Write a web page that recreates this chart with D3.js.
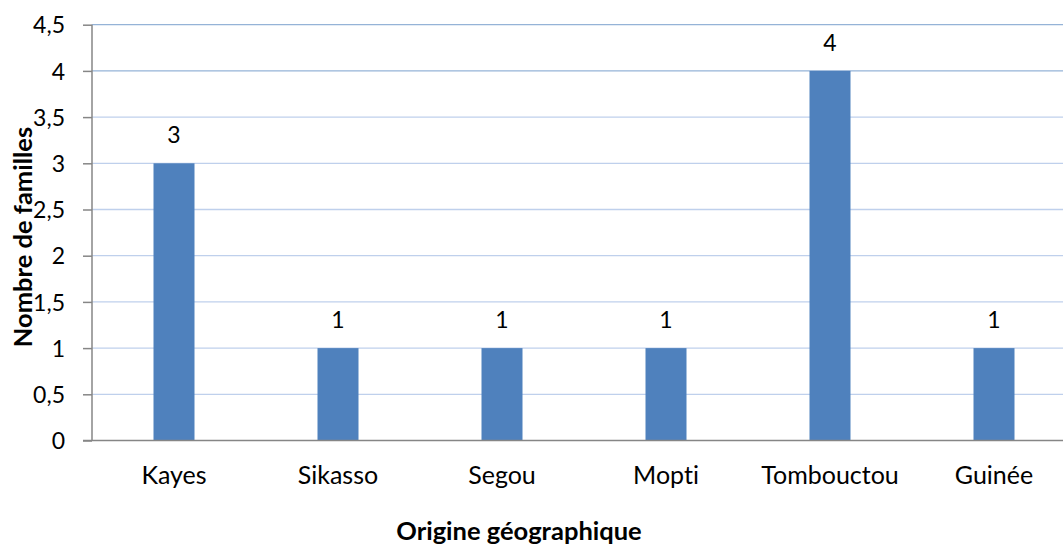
<!DOCTYPE html>
<html><head><meta charset="utf-8">
<script src="https://cdn.jsdelivr.net/npm/d3@7"></script>
<style>body{margin:0;background:#fff;}svg{display:block;font-family:Lato,"Open Sans",sans-serif;font-variant-ligatures:none;}svg text{font-variant-ligatures:none;}</style>
</head><body>
<svg id="c" width="1063" height="547"></svg>
<script>
const categories = ["Kayes","Sikasso","Segou","Mopti","Tombouctou","Guinée"];
const values = [3,1,1,1,4,1];
const yTicks = [0,0.5,1,1.5,2,2.5,3,3.5,4,4.5];
const yTitle = "Nombre de familles";
const xTitle = "Origine géographique";

const svg = d3.select("#c");
const x0 = 92, x1 = 1076, yTop = 24.7, yBot = 440.5;
const x = d3.scaleBand().domain(categories).range([x0, x1]).paddingInner(0.75).paddingOuter(0.375);
const y = d3.scaleLinear().domain([0, 4.5]).range([yBot, yTop]);
const fmt = d => String(d).replace(".", ",");

// gridlines
svg.append("g").selectAll("line").data(yTicks.filter(d => d > 0)).join("line")
  .attr("x1", x0).attr("x2", 1063).attr("y1", d => y(d)).attr("y2", d => y(d))
  .attr("stroke", d => d >= 4 ? "#95B3D7" : "#BFD0EC").attr("stroke-width", 1.3);

// bars
svg.append("g").selectAll("rect").data(values).join("rect")
  .attr("x", (d, i) => x(categories[i])).attr("width", x.bandwidth())
  .attr("y", d => y(d)).attr("height", d => yBot - y(d)).attr("fill", "#4F81BD");

// data labels
svg.append("g").selectAll("text").data(values).join("text")
  .attr("x", (d, i) => x(categories[i]) + x.bandwidth() / 2).attr("y", d => y(d) - 20)
  .attr("text-anchor", "middle").attr("font-size", 23).attr("fill", "#000").text(d => d);

// y axis
const ya = svg.append("g").attr("transform", `translate(${x0},0)`)
  .call(d3.axisLeft(y).tickValues(yTicks).tickFormat(fmt).tickSize(9).tickPadding(18));
ya.select(".domain").attr("stroke", "#868686").attr("stroke-width", 1.5).attr("d", `M0,${yTop}V${yBot}`);
ya.selectAll(".tick line").attr("stroke", "#868686").attr("stroke-width", 1.5);
ya.selectAll(".tick text").attr("font-size", 23).attr("fill", "#000").attr("font-family", "Lato,sans-serif")
  .attr("x", -27).attr("dy", "0.36em");

// x axis
const xa = svg.append("g").attr("transform", `translate(0,${yBot})`)
  .call(d3.axisBottom(x).tickSize(0));
xa.select(".domain").attr("stroke", "#868686").attr("stroke-width", 1.5).attr("d", `M${x0 - 9},0H1063`);
xa.selectAll(".tick text").attr("font-size", 25).attr("fill", "#000").attr("font-family", "Lato,sans-serif")
  .attr("y", 43).attr("dy", 0);

// titles
svg.append("text").attr("x", 519).attr("y", 540).attr("text-anchor", "middle")
  .attr("font-size", 25.5).attr("font-weight", "bold").text(xTitle);
svg.append("text").attr("transform", "translate(32,237) rotate(-90)").attr("text-anchor", "middle")
  .attr("font-size", 25.5).attr("font-weight", "bold").text(yTitle);
</script>
</body></html>
